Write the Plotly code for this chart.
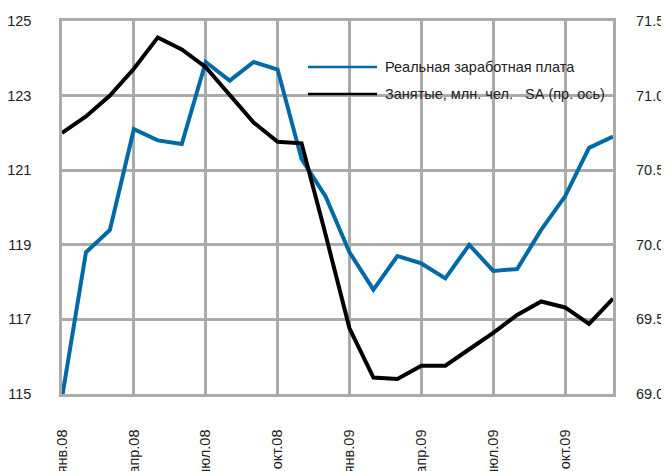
import plotly.graph_objects as go

months = ["янв.08", "фев.08", "мар.08", "апр.08", "май.08", "июн.08",
          "июл.08", "авг.08", "сен.08", "окт.08", "ноя.08", "дек.08",
          "янв.09", "фев.09", "мар.09", "апр.09", "май.09", "июн.09",
          "июл.09", "авг.09", "сен.09", "окт.09", "ноя.09", "дек.09"]
tick_labels = ["янв.08", "апр.08", "июл.08", "окт.08",
               "янв.09", "апр.09", "июл.09", "окт.09"]

real_wage = [114.9, 118.8, 119.4, 122.1, 121.8, 121.7,
             123.9, 123.4, 123.9, 123.7, 121.3, 120.3,
             118.8, 117.8, 118.7, 118.5, 118.1, 119.0,
             118.3, 118.35, 119.4, 120.3, 121.6, 121.9]
employed = [70.75, 70.86, 71.0, 71.18, 71.39, 71.31,
            71.19, 71.0, 70.82, 70.69, 70.68, 70.07,
            69.44, 69.11, 69.10, 69.19, 69.19, 69.30,
            69.41, 69.53, 69.62, 69.58, 69.47, 69.64]

name_wage = "Реальная заработная плата"
name_emp = "Занятые, млн. чел.\u00a0\u00a0\u00a0SA\u00a0(пр. ось)"

BLUE = "#006AA7"
GRID = "#ABABAB"
FONT = "Liberation Sans, Arial"
FS = 14.5

fig = go.Figure()
fig.add_trace(go.Scatter(x=months, y=real_wage, mode="lines", name=name_wage,
                         line=dict(color=BLUE, width=4), yaxis="y"))
fig.add_trace(go.Scatter(x=months, y=employed, mode="lines", name=name_emp,
                         line=dict(color="#000000", width=4), yaxis="y2"))

fig.update_layout(
    width=669, height=471,
    margin=dict(l=54, r=64, t=13, b=85, autoexpand=False),
    paper_bgcolor="white", plot_bgcolor="white",
    showlegend=False,
    font=dict(family=FONT, size=FS, color="#222222"),
    xaxis=dict(type="category", categoryorder="array", categoryarray=months,
               range=[0, 23], tickmode="array", tickvals=tick_labels,
               ticktext=tick_labels, tickangle=-90, showgrid=True,
               gridcolor=GRID, gridwidth=2.5, showline=True, linecolor=GRID,
               linewidth=2.5, mirror=True, ticks="", ticklabelstandoff=27,
               zeroline=False, automargin=False),
    yaxis=dict(range=[115, 125], dtick=2, tick0=115, showgrid=True,
               gridcolor=GRID, gridwidth=2.5, showline=True, linecolor=GRID,
               linewidth=2.5, mirror=True, ticks="", ticklabelstandoff=25,
               zeroline=False, automargin=False),
    yaxis2=dict(range=[69, 71.5], dtick=0.5, tick0=69, overlaying="y",
                side="right", showgrid=False, tickformat=".1f", ticks="",
                ticklabelstandoff=22, zeroline=False, showline=False,
                automargin=False),
)

# legend box drawn manually
fig.add_shape(type="rect", xref="paper", yref="paper",
              x0=(297 - 62) / 551, x1=(611 - 62) / 551,
              y0=(394 - 108) / 373, y1=(394 - 53) / 373,
              fillcolor="white", line=dict(width=0), layer="between")
for yy, col, txt in [(67, BLUE, name_wage), (94, "#000000", name_emp)]:
    yp = (394 - yy) / 373
    fig.add_shape(type="line", xref="paper", yref="paper",
                  x0=(308 - 62) / 551, x1=(377 - 62) / 551, y0=yp, y1=yp,
                  line=dict(color=col, width=2.5), layer="above")
    fig.add_annotation(xref="paper", yref="paper", x=(383 - 62) / 551, y=yp,
                       text=txt, showarrow=False, xanchor="left",
                       yanchor="middle", font=dict(family=FONT, size=FS,
                                                   color="#222222"))

fig.write_html("out.html")
